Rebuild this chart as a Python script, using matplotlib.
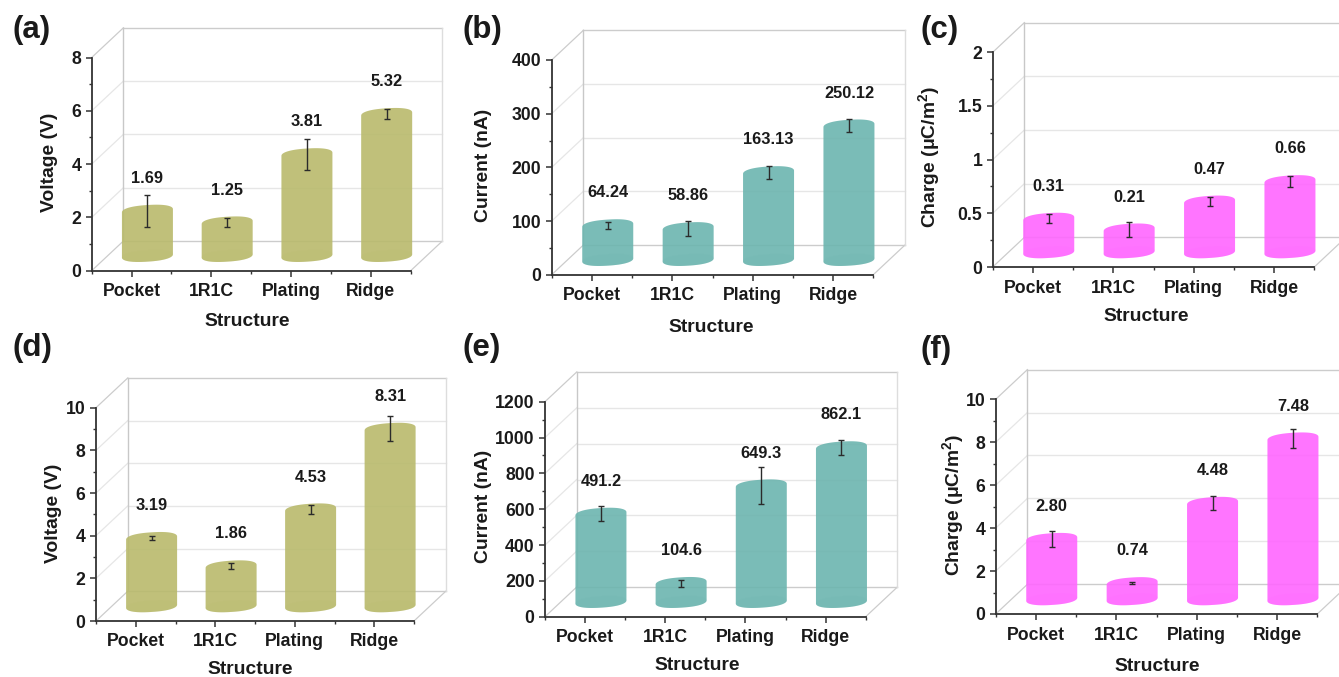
import numpy as np
import matplotlib
matplotlib.use("Agg")
import matplotlib.pyplot as plt
from matplotlib.patches import Polygon
from matplotlib.transforms import Affine2D, IdentityTransform

plt.rcParams['font.family'] = ['Liberation Sans', 'DejaVu Sans']
plt.rcParams['font.weight'] = 'bold'
plt.rcParams['axes.labelweight'] = 'bold'
plt.rcParams['mathtext.default'] = 'regular'

W, H = 1339, 677

structures = ['Pocket', '1R1C', 'Plating', 'Ridge']

# values printed above the bars
voltage_a = [1.69, 1.25, 3.81, 5.32]
current_b = [64.24, 58.86, 163.13, 250.12]
charge_c = [0.31, 0.21, 0.47, 0.66]
voltage_d = [3.19, 1.86, 4.53, 8.31]
current_e = [491.2, 104.6, 649.3, 862.1]
charge_f = [2.80, 0.74, 4.48, 7.48]

# half length of the error bars
err_a = [0.61, 0.16, 0.58, 0.20]
err_b = [6.5, 14.3, 11.8, 12.7]
err_c = [0.043, 0.073, 0.042, 0.053]
err_d = [0.10, 0.14, 0.23, 0.59]
err_e = [41, 20, 101, 44]
err_f = [0.37, 0.04, 0.33, 0.44]

# printed labels of the value axes
ticks_a = ['0', '2', '4', '6', '8']
ticks_b = ['0', '100', '200', '300', '400']
ticks_c = ['0', '0.5', '1', '1.5', '2']
ticks_d = ['0', '2', '4', '6', '8', '10']
ticks_e = ['0', '200', '400', '600', '800', '1000', '1200']
ticks_f = ['0', '2', '4', '6', '8', '10']

OLIVE = '#b9ba6c'
TEAL = '#6cb5af'
PINK = '#ff66ff'

charge_label = 'Charge (μC/m$^{2}$)'

# box = x0, x1, y bottom, y top in pixels, from the top left of the image
panels = [
    dict(tag='(a)', vals=voltage_a, err=err_a, ticks=ticks_a, top=8, color=OLIVE, ylabel='Voltage (V)',
         box=(91.7, 410.7, 270.7, 57.5), tagxy=(13, 30), xl=(247, 321), yl=(50, 162.5)),
    dict(tag='(b)', vals=current_b, err=err_b, ticks=ticks_b, top=400, color=TEAL, ylabel='Current (nA)',
         box=(551.7, 873.3, 274.7, 60), tagxy=(463, 30), xl=(711, 328), yl=(483, 165)),
    dict(tag='(c)', vals=charge_c, err=err_c, ticks=ticks_c, top=2, color=PINK, ylabel=charge_label,
         box=(992.7, 1314.3, 267, 52.3), tagxy=(921, 30), xl=(1146, 316.7), yl=(929, 157.5)),
    dict(tag='(d)', vals=voltage_d, err=err_d, ticks=ticks_d, top=10, color=OLIVE, ylabel='Voltage (V)',
         box=(96, 414, 621, 407.7), tagxy=(13, 348), xl=(250.7, 670), yl=(53, 513)),
    dict(tag='(e)', vals=current_e, err=err_e, ticks=ticks_e, top=1200, color=TEAL, ylabel='Current (nA)',
         box=(545, 865.7, 616.7, 401.7), tagxy=(463, 348), xl=(697, 666), yl=(483, 506.7)),
    dict(tag='(f)', vals=charge_f, err=err_f, ticks=ticks_f, top=10, color=PINK, ylabel=charge_label,
         box=(995.7, 1317.3, 614, 399.3), tagxy=(921, 350), xl=(1157.7, 666.7), yl=(953, 505)),
]

DEPTH_X, DEPTH_Y = 31.7, 29.7  # pseudo 3D depth of the box, px
BAR_RX, BAR_RY, BAR_SKEW = 25.5, 5.8, 1.6  # px


def ellipse_xy(t, rx, ry, skew):
    # a bit boxy and tilted, like the Origin cylinders
    c = np.sign(np.cos(t)) * np.abs(np.cos(t)) ** 0.85
    s = np.sign(np.sin(t)) * np.abs(np.sin(t)) ** 0.9
    return rx * c, ry * s + skew * c


fig = plt.figure(figsize=(W / 100, H / 100), dpi=100)
px = Affine2D().scale(1, -1).translate(0, H)  # image pixels -> display

for p in panels:
    x0, x1, yb, yt = p['box']
    ax = fig.add_axes([x0 / W, 1 - yb / H, (x1 - x0) / W, (yb - yt) / H])
    ax.patch.set_alpha(0)
    ax.set_xlim(0.5, 4.5)
    ax.set_ylim(0, p['top'])
    ppx = (x1 - x0) / 4
    ppy = (yb - yt) / p['top']

    back = ax.transData + Affine2D().translate(DEPTH_X, DEPTH_Y)
    mid = ax.transData + Affine2D().translate(DEPTH_X / 2, DEPTH_Y / 2)
    ticks_at = np.linspace(0, p['top'], len(p['ticks']))

    # back wall, floor and the diagonals
    for i, t in enumerate(ticks_at):
        strong = i == 0 or i == len(ticks_at) - 1
        c = '#cccccc' if strong else '#e6e6e6'
        ax.plot([0.5, 4.5], [t, t], color=c, lw=1.0, transform=back, clip_on=False, zorder=1)
        q0 = ax.transData.transform((0.5, t))
        q1 = back.transform((0.5, t))
        ax.plot([q0[0], q1[0]], [q0[1], q1[1]], color=c, lw=0.9, transform=IdentityTransform(),
                clip_on=False, zorder=1)
    q0 = ax.transData.transform((4.5, 0))
    q1 = back.transform((4.5, 0))
    ax.plot([q0[0], q1[0]], [q0[1], q1[1]], color='#cccccc', lw=0.9, transform=IdentityTransform(),
            clip_on=False, zorder=1)
    ax.plot([0.5, 0.5], [0, p['top']], color='#c8c8c8', lw=1.0, transform=back, clip_on=False, zorder=1)
    ax.plot([4.5, 4.5], [0, p['top']], color='#dddddd', lw=1.0, transform=back, clip_on=False, zorder=1)

    xs = np.arange(1, 5)
    tt = np.linspace(0, 2 * np.pi, 241)
    for x, v in zip(xs, p['vals']):
        ex, ey = ellipse_xy(tt, BAR_RX, BAR_RY, BAR_SKEW)
        upper = tt <= np.pi
        lower = tt >= np.pi
        xy = np.r_[np.c_[x + ex[upper] / ppx, v + ey[upper] / ppy],
                   np.c_[x + ex[lower] / ppx, ey[lower] / ppy]]
        ax.add_patch(Polygon(xy, closed=True, fc=p['color'], ec='none', alpha=0.9,
                             transform=mid, clip_on=False, zorder=2))
        base = np.c_[x + ex / ppx, ey / ppy]
        ax.add_patch(Polygon(base, closed=True, fc=p['color'], ec='none', alpha=0.15,
                             transform=mid, clip_on=False, zorder=2.1))

    ax.errorbar(xs, p['vals'], yerr=p['err'], fmt='none', ecolor='#2b2b2b', elinewidth=1.0,
                capsize=2.2, capthick=1.0, transform=mid, zorder=3)

    label_tr = mid + Affine2D().translate(0, 32.5)
    for x, v in zip(xs, p['vals']):
        s = '%.2f' % v if p['tag'] != '(e)' else '%.1f' % v
        ax.text(x, v, s, transform=label_tr, ha='center', va='center', fontsize=11.8, color='#1a1a1a', zorder=4)

    ax.set_xlim(0.5, 4.5)
    ax.set_ylim(0, p['top'])
    ax.set_xticks(xs)
    ax.set_xticklabels(structures)
    ax.set_xticks(np.arange(0.5, 5), minor=True)
    ax.set_yticks(ticks_at)
    ax.set_yticklabels(p['ticks'])
    ax.set_yticks((ticks_at[:-1] + ticks_at[1:]) / 2, minor=True)
    ax.tick_params(axis='both', which='major', labelsize=12.7, length=4, width=1.1, color='#333333',
                   labelcolor='#1a1a1a')
    ax.tick_params(axis='both', which='minor', length=2.5, width=1.0, color='#333333')
    ax.tick_params(axis='x', which='major', pad=5)
    ax.tick_params(axis='y', which='major', pad=3.5)
    for side in ('top', 'right'):
        ax.spines[side].set_visible(False)
    for side in ('left', 'bottom'):
        ax.spines[side].set_linewidth(1.3)
        ax.spines[side].set_color('#333333')
        ax.spines[side].set_zorder(5)

    ax.set_xlabel('Structure', fontsize=13.9, color='#1a1a1a', va='center')
    ax.set_ylabel(p['ylabel'], fontsize=13.9, color='#1a1a1a', va='center')
    ax.xaxis.set_label_coords(p['xl'][0], p['xl'][1], transform=px)
    ax.yaxis.set_label_coords(p['yl'][0], p['yl'][1], transform=px)

    fig.text(p['tagxy'][0] / W, 1 - p['tagxy'][1] / H, p['tag'], fontsize=22.5, fontweight='bold',
             ha='left', va='center', color='#1a1a1a')

fig.savefig('out.png', dpi=100)
